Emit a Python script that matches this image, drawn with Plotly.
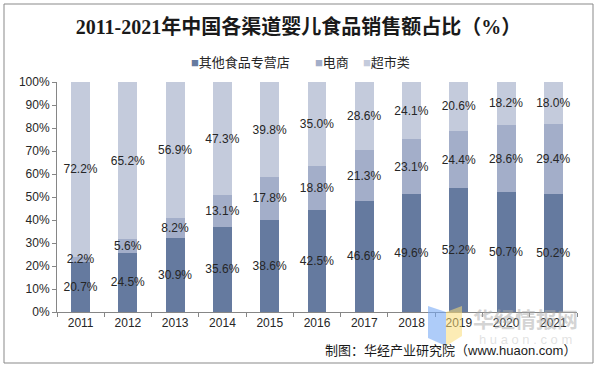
import plotly.graph_objects as go

years = ["2011", "2012", "2013", "2014", "2015", "2016", "2017", "2018", "2019", "2020", "2021"]
specialty = [20.7, 24.5, 30.9, 35.6, 38.6, 42.5, 46.6, 49.6, 52.2, 50.7, 50.2]
ecommerce = [2.2, 5.6, 8.2, 13.1, 17.8, 18.8, 21.3, 23.1, 24.4, 28.6, 29.4]
supermarket = [72.2, 65.2, 56.9, 47.3, 39.8, 35.0, 28.6, 24.1, 20.6, 18.2, 18.0]

names = ["其他食品专营店", "电商", "超市类"]
colors = ["#657A9F", "#A3AEC9", "#C4CBDC"]
series = [specialty, ecommerce, supermarket]

title_text = "2011-2021年中国各渠道婴儿食品销售额占比（%）"
source_text = "制图：华经产业研究院（www.huaon.com）"

W, H = 597, 368
L, R, T, B = 57, 577, 82, 312
legend_x = [189, 313, 361]

def px(x):
    return (x - L) / (R - L)

def py(y):
    return (B - y) / (B - T)

sans = "Liberation Sans, Arial, Noto Sans CJK SC, sans-serif"

fig = go.Figure()
# coloured bars (no text)
for name, color, vals in zip(names, colors, series):
    fig.add_trace(go.Bar(
        x=years, y=vals, name=name,
        marker=dict(color=color, line=dict(width=0)),
        showlegend=False, hoverinfo="skip",
        xaxis="x", yaxis="y",
    ))
# identical transparent stack on an overlaying axis, carrying the value labels on top
for name, vals in zip(names, series):
    fig.add_trace(go.Bar(
        x=years, y=vals, name=name,
        marker=dict(color="rgba(0,0,0,0)", line=dict(width=0)),
        text=[f"{v:.1f}%" for v in vals],
        texttemplate="%{text}",
        textposition="inside",
        insidetextanchor="middle",
        textangle=0,
        constraintext="none",
        textfont=dict(family=sans, size=12, color="#262626"),
        showlegend=False, hoverinfo="skip",
        xaxis="x2", yaxis="y2",
    ))

axis_font = dict(family=sans, size=12, color="#262626")

legend_annots = [
    dict(text=f"<span style='color:{c}'>■</span>{n}", xref="paper", yref="paper",
         x=px(lx), y=py(62), xanchor="left", yanchor="middle",
         showarrow=False, font=dict(family=sans, size=13, color="#262626"))
    for n, c, lx in zip(names, colors, legend_x)
]

fig.update_layout(
    width=W, height=H,
    barmode="stack", barnorm="percent", bargap=0.6,
    margin=dict(l=L, r=W - R, t=T, b=H - B),
    paper_bgcolor="white", plot_bgcolor="white",
    uniformtext=dict(minsize=12, mode="show"),
    title=dict(
        text=f"<b>{title_text}</b>",
        x=0.5, xref="container", xanchor="center",
        y=1 - 27 / H, yref="container", yanchor="middle",
        font=dict(family="Liberation Serif, Times New Roman, Noto Sans CJK SC, serif", size=20, color="#1a1a1a"),
    ),
    xaxis=dict(
        showline=True, linecolor="#868686", linewidth=1,
        ticks="outside", ticklen=4, tickcolor="#868686",
        tickson="boundaries",
        tickfont=axis_font,
        showgrid=False,
    ),
    yaxis=dict(
        range=[0, 100], dtick=10, ticksuffix="%",
        showline=True, linecolor="#868686", linewidth=1,
        ticks="outside", ticklen=4, tickcolor="#868686",
        tickfont=axis_font,
        showgrid=False, zeroline=False,
    ),
    xaxis2=dict(overlaying="x", matches="x", visible=False, showgrid=False),
    yaxis2=dict(overlaying="y", range=[0, 100], visible=False, showgrid=False, zeroline=False),
    shapes=[
        dict(type="rect", xref="paper", yref="paper",
             x0=px(4), x1=px(593), y0=py(363), y1=py(4),
             line=dict(color="#898989", width=1), fillcolor="rgba(0,0,0,0)", layer="below"),
        # watermark logo
        dict(type="path", xref="paper", yref="paper",
             path=f"M {px(428)},{py(338)} L {px(428)},{py(306)} L {px(446)},{py(312)} L {px(446)},{py(346)} Z",
             fillcolor="rgba(120,170,245,0.6)", line=dict(width=0), layer="above"),
        dict(type="path", xref="paper", yref="paper",
             path=f"M {px(446)},{py(312)} L {px(462)},{py(306)} L {px(462)},{py(336)} L {px(446)},{py(346)} Z",
             fillcolor="rgba(250,220,120,0.55)", line=dict(width=0), layer="above"),
    ],
    annotations=legend_annots + [
        dict(text=source_text, xref="paper", yref="paper",
             x=px(578), y=py(350), xanchor="right", yanchor="middle",
             showarrow=False, font=dict(family=sans, size=13, color="#1a1a1a")),
        dict(text="<b>华经情报网</b>", xref="paper", yref="paper",
             x=px(525), y=py(318), xanchor="center", yanchor="middle",
             showarrow=False, font=dict(family="Noto Sans CJK SC", size=21, color="rgba(170,170,170,0.5)")),
        dict(text="h u a o n . c o m", xref="paper", yref="paper",
             x=px(525), y=py(339), xanchor="center", yanchor="middle",
             showarrow=False, font=dict(family=sans, size=13, color="rgba(190,190,190,0.45)")),
    ],
)

fig.write_html(
    "out.html",
    config={"displayModeBar": False},
    post_script="document.body.style.margin='0';document.body.style.padding='0';",
)
